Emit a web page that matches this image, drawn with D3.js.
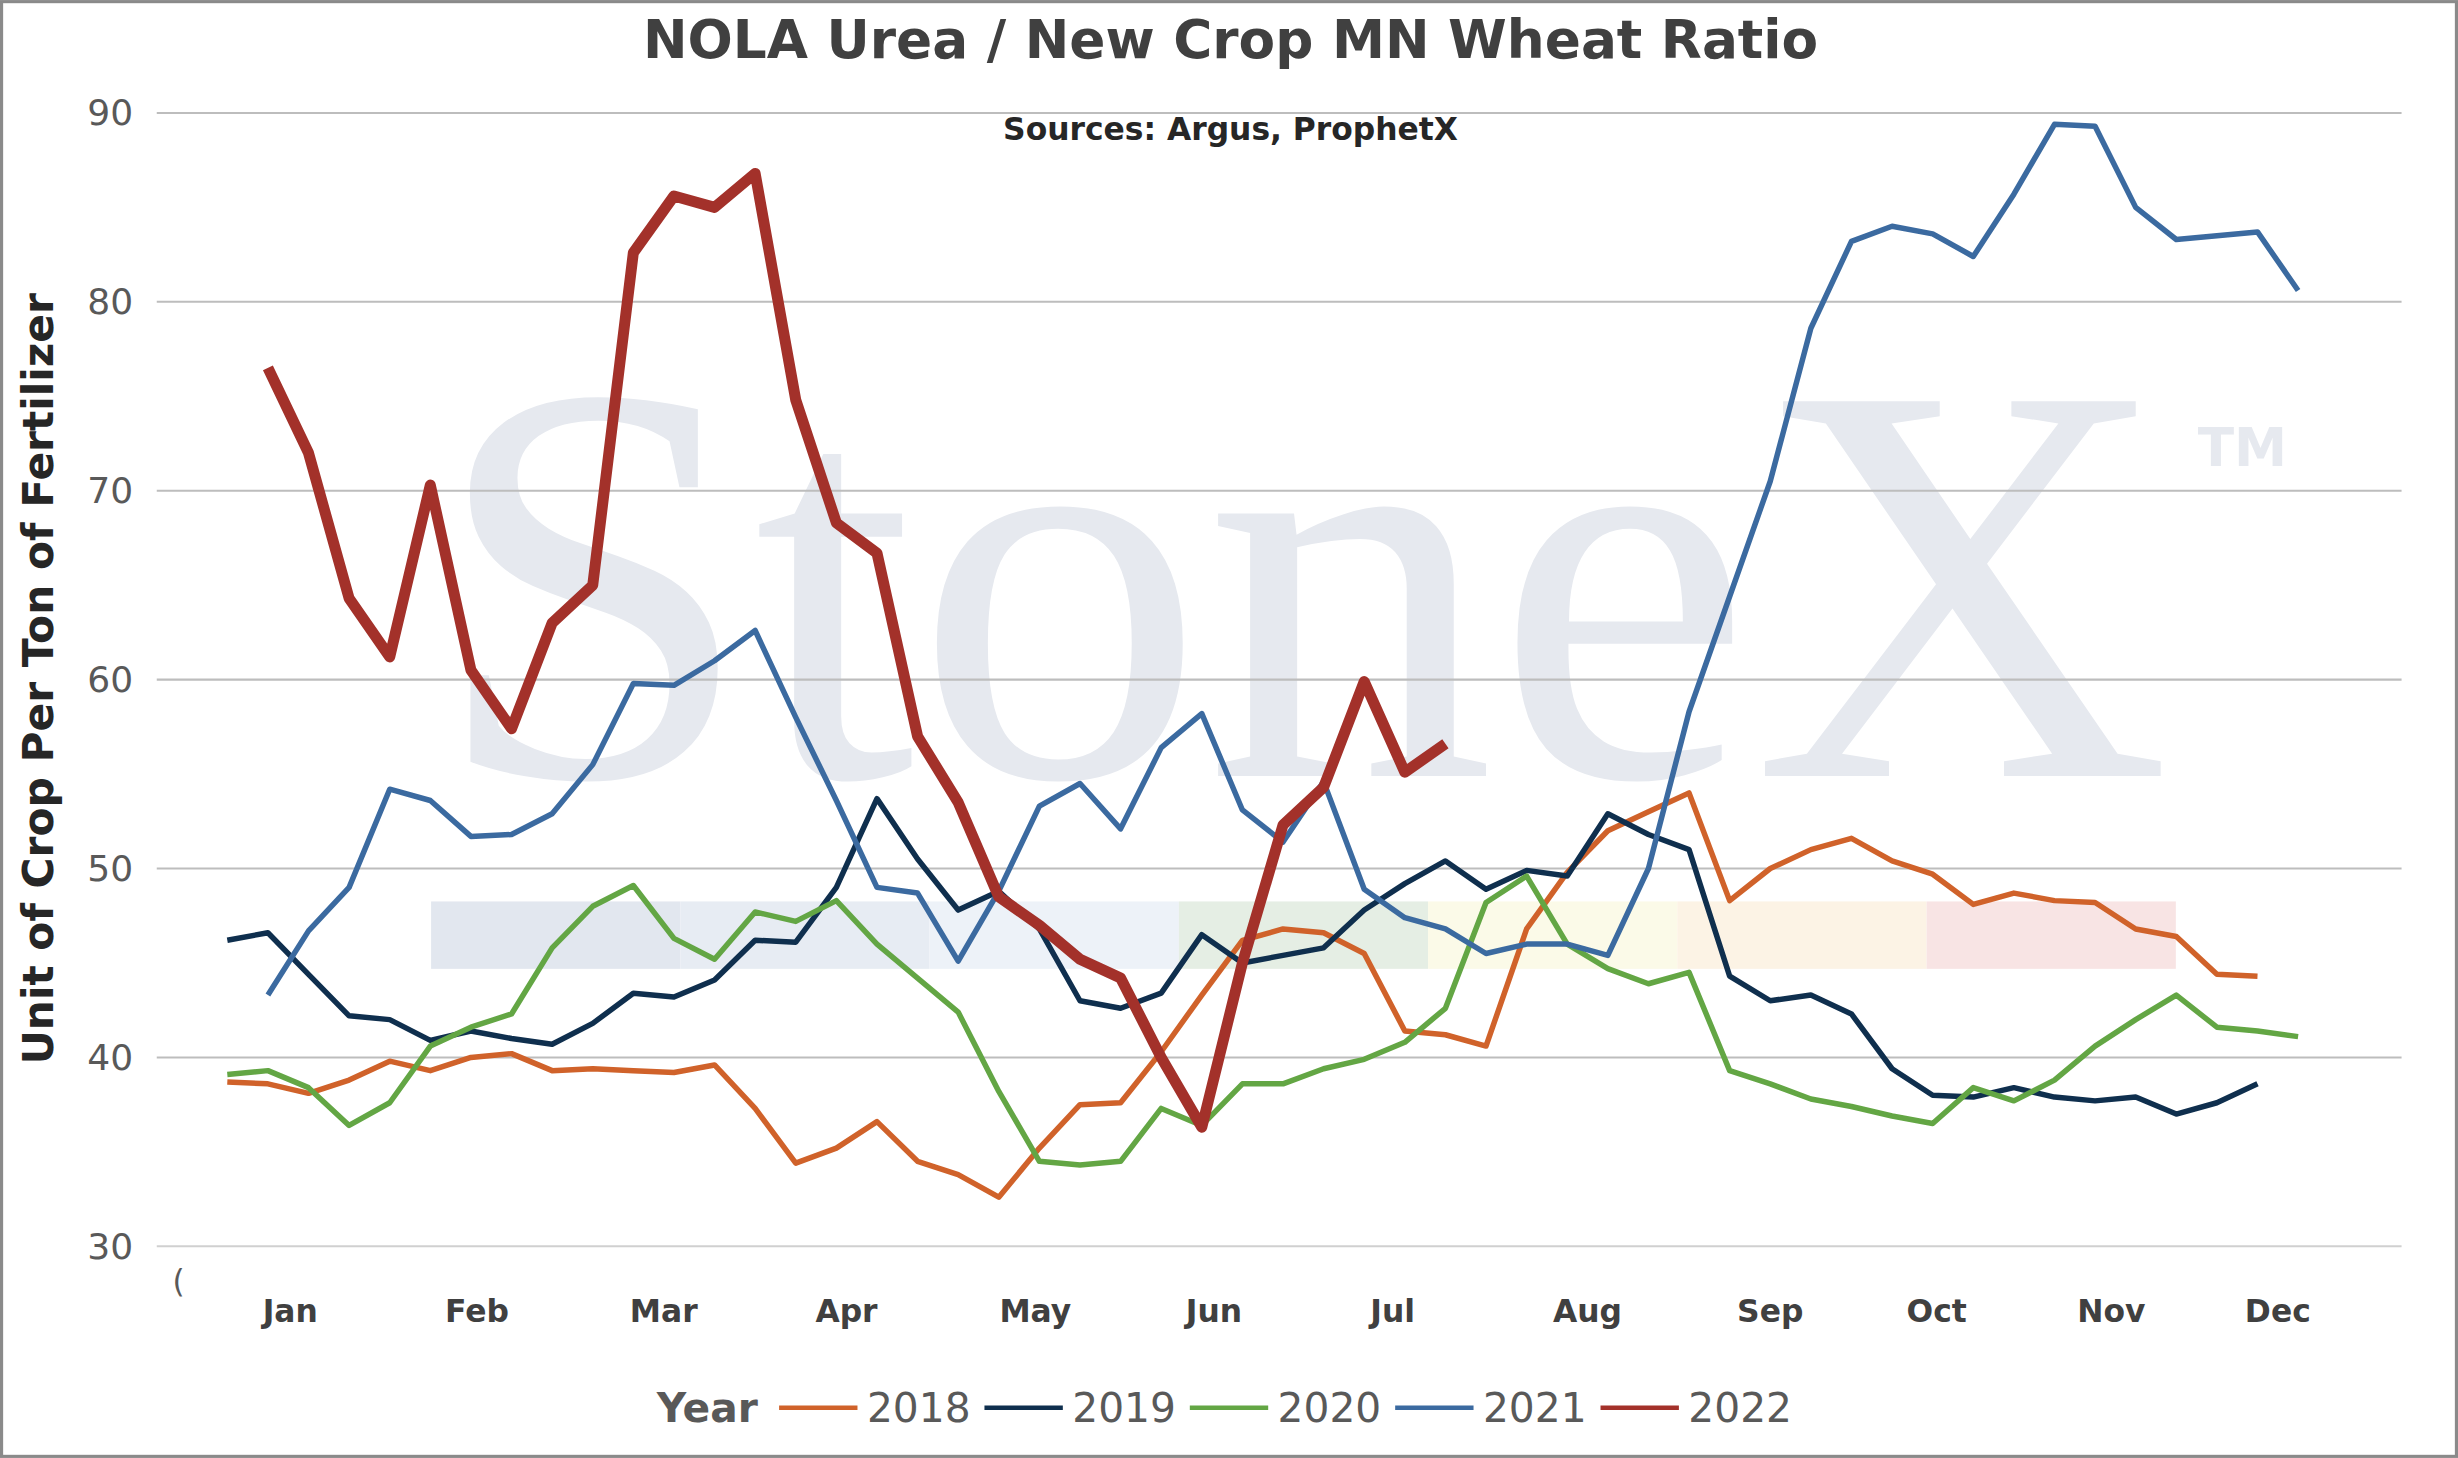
<!DOCTYPE html>
<html><head><meta charset="utf-8">
<script src="https://cdn.jsdelivr.net/npm/d3@7"></script>
<style>body{margin:0;background:#fff}svg{display:block}</style>
</head><body>
<script>
// weekly values, x = week index
var years = ['2018','2019','2020','2021','2022']
var colors = ['#d0622a','#0f2f4e','#63a644','#3b6aa0','#a3312a']
var start = [0, 0, 0, 1, 1]
var v2018 = [38.7,38.6,38.1,38.8,39.8,39.3,40,40.2,39.3,39.4,39.3,39.2,39.6,37.3,34.4,35.2,36.6,34.5,33.8,32.6,35.2,37.5,37.6,40.3,43.3,46.2,46.8,46.6,45.5,41.4,41.2,40.6,46.8,49.8,52,53,54,48.3,50,51,51.6,50.4,49.7,48.1,48.7,48.3,48.2,46.8,46.4,44.4,44.3]
var v2019 = [46.2,46.6,44.4,42.2,42,40.9,41.4,41,40.7,41.8,43.4,43.2,44.1,46.2,46.1,49,53.7,50.5,47.8,48.8,46.8,43,42.6,43.4,46.5,45,45.4,45.8,47.8,49.2,50.4,48.9,49.9,49.6,52.9,51.8,51,44.3,43,43.3,42.3,39.4,38,37.9,38.4,37.9,37.7,37.9,37,37.6,38.6]
var v2020 = [39.1,39.3,38.4,36.4,37.6,40.6,41.6,42.3,45.8,48,49.1,46.3,45.2,47.7,47.2,48.3,46,44.2,42.4,38.2,34.5,34.3,34.5,37.3,36.4,38.6,38.6,39.4,39.9,40.8,42.6,48.2,49.6,46,44.7,43.9,44.5,39.3,38.6,37.8,37.4,36.9,36.5,38.4,37.7,38.8,40.6,42,43.3,41.6,41.4,41.1]
var v2021 = [43.3,46.7,49,54.2,53.6,51.7,51.8,52.9,55.5,59.8,59.7,61,62.6,58,53.6,49,48.7,45.1,48.8,53.3,54.5,52.1,56.4,58.2,53.1,51.4,54.6,48.9,47.4,46.8,45.5,46,46,45.4,50,58.3,64.4,70.5,78.6,83.2,84,83.6,82.4,85.7,89.4,89.3,85,83.3,83.5,83.7,80.6]
var v2022 = [76.5,72,64.3,61.2,70.3,60.5,57.4,63,65,82.6,85.6,85,86.8,74.8,68.3,66.7,57,53.5,48.5,47,45.2,44.2,40,36.3,45,52.3,54.3,59.9,55.1,56.6]
var series = [v2018, v2019, v2020, v2021, v2022]
var months = ['Jan','Feb','Mar','Apr','May','Jun','Jul','Aug','Sep','Oct','Nov','Dec']
var monthPos = [1.55,6.15,10.75,15.25,19.9,24.3,28.7,33.5,38,42.1,46.4,50.5]
var yTicks = [30,40,50,60,70,80,90]

var W = 1568, H = 930
var svg = d3.select('body').append('svg')
  .attr('width', 2458).attr('height', 1458)
  .attr('viewBox', [0,0,W,H].join(' '))
  .style('font-family', 'Verdana, "DejaVu Sans", sans-serif')

svg.append('rect').attr('x',1).attr('y',1).attr('width',W-2).attr('height',H-2)
  .attr('fill','#fff').attr('stroke','#8a8a8a').attr('stroke-width',2)

var x = d3.scaleLinear().domain([0,51]).range([145,1466])
var y = d3.scaleLinear().domain([30,90]).range([795,72])

// watermark
svg.append('text').attr('x',830).attr('y',495).attr('text-anchor','middle')
  .attr('font-family','"Liberation Serif", serif').attr('font-size',365)
  .attr('fill','#e6e9ef').attr('textLength',1110).attr('lengthAdjust','spacingAndGlyphs').text('StoneX')
svg.append('text').attr('x',1402).attr('y',297).attr('font-size',34)
  .attr('font-weight','bold').attr('fill','#e6e9ef').text('TM')
var bandCols = ['#e2e7ef','#e7ecf3','#edf2f8','#e5eee4','#fbfae8','#fcf3e5','#f8e4e4']
svg.selectAll('rect.band').data(bandCols).enter().append('rect').attr('class','band')
  .attr('x',function(d,i){return 275+i*159}).attr('y',575).attr('width',159).attr('height',43)
  .attr('fill',function(d){return d})

// grid
svg.selectAll('line.grid').data(yTicks).enter().append('line')
  .attr('x1',100).attr('x2',1532).attr('y1',y).attr('y2',y)
  .attr('stroke',function(d){return d==30?'#d0d0d0':'#bdbdbd'}).attr('stroke-width',1.3)
svg.selectAll('text.yt').data(yTicks).enter().append('text')
  .attr('x',85).attr('y',function(d){return y(d)+8}).attr('text-anchor','end')
  .attr('font-size',23).attr('fill','#595959').text(function(d){return d})
svg.append('text').attr('x',110).attr('y',824).attr('font-size',20).attr('fill','#595959').text('(')
svg.selectAll('text.mt').data(months).enter().append('text')
  .attr('x',function(d,i){return x(monthPos[i])}).attr('y',843).attr('text-anchor','middle')
  .attr('font-size',20).attr('font-weight','bold').attr('fill','#404040').text(function(d){return d})

// lines
var line = d3.line().x(function(d){return x(d[0])}).y(function(d){return y(d[1])})
series.forEach(function(s,k){
  svg.append('path').datum(s.map(function(v,i){return [i+start[k], v]}))
    .attr('d', line).attr('fill','none').attr('stroke',colors[k])
    .attr('stroke-width', k==4 ? 7 : 3.5).attr('stroke-linejoin','round')
})

// titles
svg.append('text').attr('x',785).attr('y',37).attr('text-anchor','middle')
  .attr('font-size',34).attr('font-weight','bold').attr('fill','#404040')
  .text('NOLA Urea / New Crop MN Wheat Ratio')
svg.append('text').attr('x',785).attr('y',89).attr('text-anchor','middle')
  .attr('font-size',20).attr('font-weight','bold').attr('fill','#262626')
  .text('Sources: Argus, ProphetX')
svg.append('text').attr('transform','translate(34,433) rotate(-90)').attr('text-anchor','middle')
  .attr('font-size',27).attr('font-weight','bold').attr('fill','#262626')
  .text('Unit of Crop Per Ton of Fertilizer')

// legend
svg.append('text').attr('x',419).attr('y',907).attr('font-size',26).attr('font-weight','bold')
  .attr('fill','#595959').text('Year')
var lg = svg.selectAll('g.lg').data(years).enter().append('g')
  .attr('transform',function(d,i){return 'translate('+(497+i*131)+',898)'})
lg.append('line').attr('x1',0).attr('x2',50).attr('stroke',function(d,i){return colors[i]}).attr('stroke-width',3)
lg.append('text').attr('x',56).attr('y',9).attr('font-size',26).attr('fill','#595959').text(function(d){return d})
</script>
</body></html>
